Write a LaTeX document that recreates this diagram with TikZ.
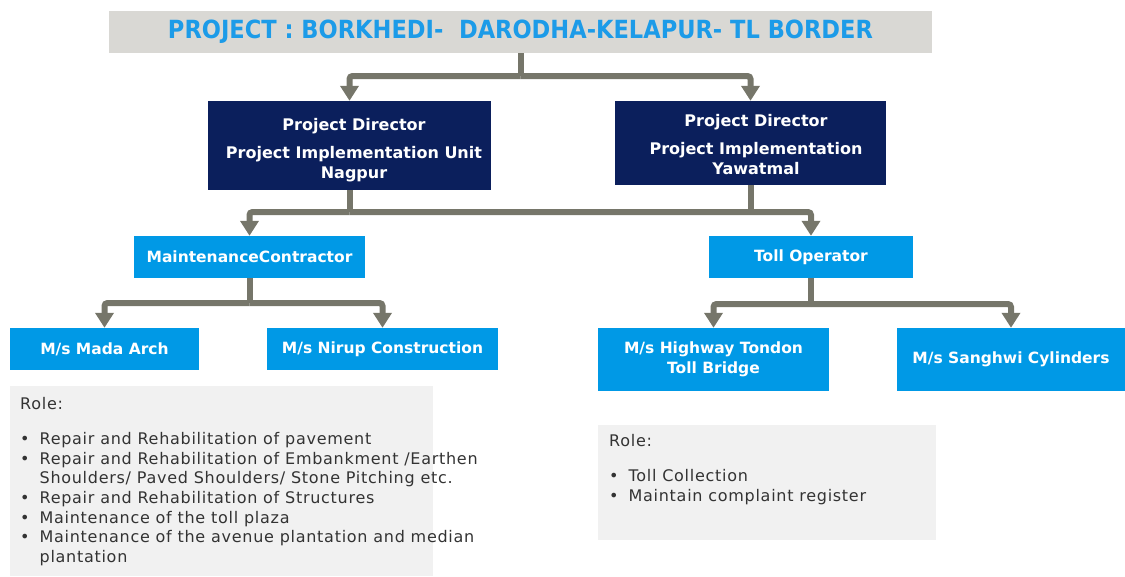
\documentclass[tikz,border=0pt]{standalone}
\usepackage{fontspec}
\setmainfont{DejaVu Sans}
\newfontfamily\rolefont[LetterSpace=4.5]{DejaVu Sans}
\usetikzlibrary{arrows.meta}
\definecolor{navy}{HTML}{0B1F5C}
\definecolor{skyb}{HTML}{0099E6}
\definecolor{titleblue}{HTML}{1C9BE8}
\definecolor{titlegray}{HTML}{D9D8D4}
\definecolor{rolegray}{HTML}{F1F1F1}
\definecolor{conngray}{HTML}{76766A}
\definecolor{roletext}{HTML}{333333}
\tikzset{
  pdbox/.style={fill=navy, text=white, inner sep=0pt, align=center, font=\fontsize{16}{20}\selectfont\bfseries},
  bluebox/.style={fill=skyb, text=white, inner sep=0pt, align=center, font=\fontsize{15.5}{20}\selectfont\bfseries},
  rolebox/.style={fill=rolegray, inner sep=0pt},
  roletxt/.style={text=roletext, inner sep=0pt, align=left, anchor=north west, font=\fontsize{16}{19.7}\rolefont},
  conn/.style={draw=conngray, line width=6pt, rounded corners=3pt},
  arrconn/.style={conn, -{Triangle[width=18pt,length=15pt]}},
}
\begin{document}
\begin{tikzpicture}[x=1pt,y=-1pt]
\useasboundingbox (0,0) rectangle (1125,576);
% title
\node[fill=titlegray, minimum width=823pt, minimum height=42pt, inner sep=0pt,
  text=titleblue, font=\fontsize{25}{28}\selectfont\bfseries] (title) at (520.5,32)
  {\raisebox{3pt}{\resizebox{705pt}{\height}{PROJECT : BORKHEDI-\ \ DARODHA-KELAPUR- TL BORDER}}};
% directors
\node[pdbox, minimum width=283pt, minimum height=89pt] (pd1) at (349.5,145.5) {};
\node[pdbox, anchor=north] (pd1t) at (354,118) {Project Director\\[8pt]Project Implementation Unit\\Nagpur};
\node[pdbox, minimum width=271pt, minimum height=84pt] (pd2) at (750.5,143) {};
\node[pdbox, anchor=north] (pd2t) at (756,114) {Project Director\\[8pt]Project Implementation\\Yawatmal};
% second level
\node[bluebox, minimum width=231pt, minimum height=42pt] (mc) at (249.5,257) {MaintenanceContractor};
\node[bluebox, minimum width=204pt, minimum height=42pt] (to) at (811,257) {Toll Operator};
% third level
\node[bluebox, minimum width=189pt, minimum height=42pt] (mada) at (104.5,349) {\raisebox{-1.5pt}{M/s Mada Arch}};
\node[bluebox, minimum width=231pt, minimum height=42pt] (nirup) at (382.5,349) {\raisebox{-1.5pt}{M/s Nirup Construction}};
\node[bluebox, minimum width=231pt, minimum height=63pt] (hw) at (713.5,359.5) {\raisebox{-3pt}{\begin{tabular}{@{}c@{}}M/s Highway Tondon\\Toll Bridge\end{tabular}}};
\node[bluebox, minimum width=228pt, minimum height=63pt] (sg) at (1011,359.5) {\raisebox{-1.5pt}{M/s Sanghwi Cylinders}};
% role boxes
\node[rolebox, minimum width=423pt, minimum height=190pt, anchor=north west] (role1) at (10,386) {};
\node[roletxt] (role1t) at (20,397) {Role:\\[20pt]
\begin{tabular}{@{}l@{\hspace{10pt}}l@{}}
\textbullet & Repair and Rehabilitation of pavement\\
\textbullet & Repair and Rehabilitation of Embankment /Earthen\\
 & Shoulders/ Paved Shoulders/ Stone Pitching etc.\\
\textbullet & Repair and Rehabilitation of Structures\\
\textbullet & Maintenance of the toll plaza\\
\textbullet & Maintenance of the avenue plantation and median\\
 & plantation
\end{tabular}};
\node[rolebox, minimum width=338pt, minimum height=115pt, anchor=north west] (role2) at (598,425) {};
\node[roletxt] (role2t) at (609,434) {Role:\\[20pt]
\begin{tabular}{@{}l@{\hspace{10pt}}l@{}}
\textbullet & Toll Collection\\
\textbullet & Maintain complaint register
\end{tabular}};
% connectors
\coordinate (b1) at (title.south |- 0,76);
\draw[conn] (title.south) -- (b1);
\draw[arrconn] (b1) -| (pd1.north);
\draw[arrconn] (b1) -| (pd2.north);
\coordinate (b2) at (pd1.south |- 0,212);
\draw[conn] (pd1.south) -- (b2);
\draw[conn] (pd2.south) -- (pd2.south |- 0,212);
\draw[arrconn] (b2) -| (mc.north);
\draw[arrconn] (b2) -| (to.north);
\coordinate (b3) at (mc.south |- 0,303);
\draw[conn] (mc.south) -- (b3);
\draw[arrconn] (b3) -| (mada.north);
\draw[arrconn] (b3) -| (nirup.north);
\coordinate (b4) at (to.south |- 0,304);
\draw[conn] (to.south) -- (b4);
\draw[arrconn] (b4) -| (hw.north);
\draw[arrconn] (b4) -| (sg.north);
\end{tikzpicture}
\end{document}
